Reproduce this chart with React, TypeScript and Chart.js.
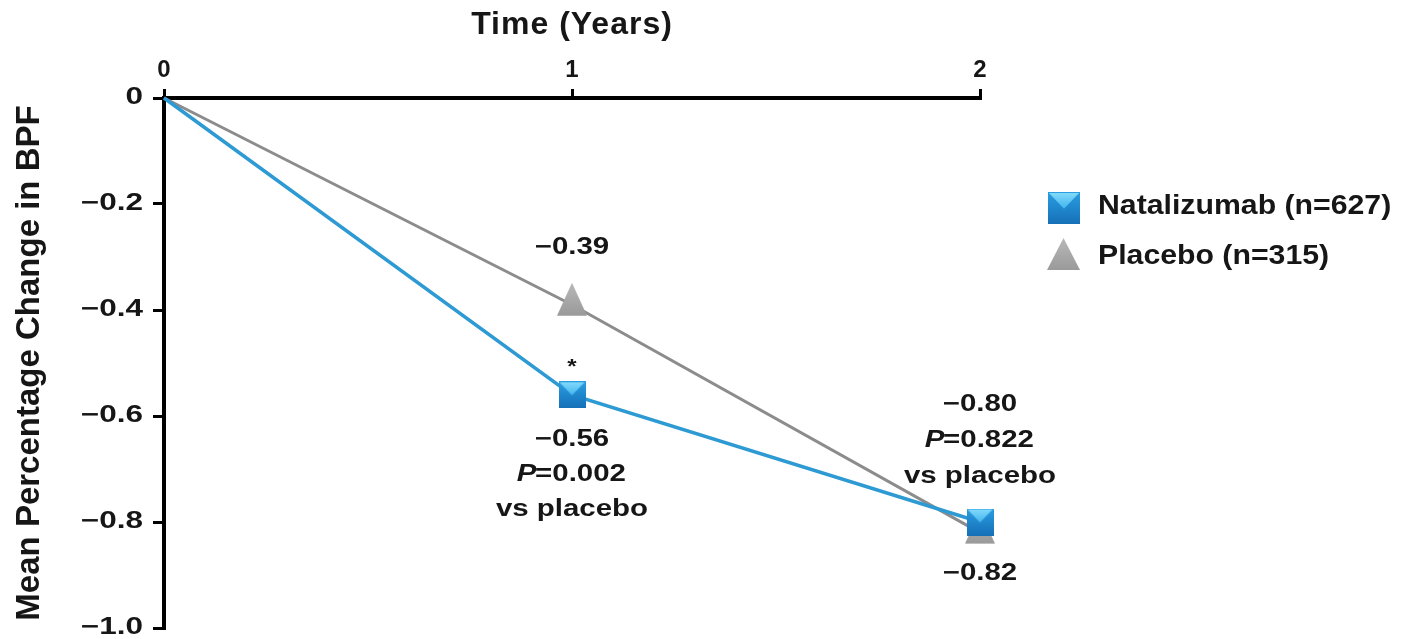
import React, { useEffect, useRef } from "react";
import { Chart, registerables } from "chart.js";

Chart.register(...registerables);

// ---- data ----
const years = [0, 1, 2];
const natalizumab = [0, -0.56, -0.8];
const placebo = [0, -0.39, -0.82];
const xTickValues = [0, 1, 2];
const xTickLabels = ["0", "1", "2"];
const yTickValues = [0, -0.2, -0.4, -0.6, -0.8, -1.0];
const yTickLabels = ["0", "\u22120.2", "\u22120.4", "\u22120.6", "\u22120.8", "\u22121.0"];
const legendLabels = ["Natalizumab (n=627)", "Placebo (n=315)"];
const natValueLabels = ["", "\u22120.56", "\u22120.80"];
const placeboValueLabels = ["", "\u22120.39", "\u22120.82"];
const pValueLabels = ["", "=0.002", "=0.822"];
const vsLabel = "vs placebo";
const xTitle = "Time (Years)";
const yTitle = "Mean Percentage Change in BPF";

const FONT = '"Liberation Sans", Arial, Helvetica, sans-serif';
const TEXT = "#161616";
const BLUE_LINE = "#2e9ad3";
const GRAY_LINE = "#8c8c8c";
const Y_TICK_PAD = 10;
const Y_TICK_LEN = 11;

function makeSquare(size: number): HTMLCanvasElement {
  const c = document.createElement("canvas");
  c.width = size;
  c.height = size;
  const g = c.getContext("2d")!;
  const base = g.createLinearGradient(0, 0, 0, size);
  base.addColorStop(0, "#2a9ee2");
  base.addColorStop(1, "#1670b8");
  g.fillStyle = base;
  g.fillRect(0, 0, size, size);
  const top = g.createLinearGradient(0, 0, 0, size * 0.55);
  top.addColorStop(0, "#86dcfb");
  top.addColorStop(1, "#3db2ee");
  g.fillStyle = top;
  g.beginPath();
  g.moveTo(1, 1);
  g.lineTo(size - 1, 1);
  g.lineTo(size / 2, size * 0.52);
  g.closePath();
  g.fill();
  return c;
}

// triangle whose canvas centre sits at 2/3 of height (centroid-like placement)
function makeTriangle(w: number, h: number): HTMLCanvasElement {
  const ch = Math.round((h * 4) / 3);
  const c = document.createElement("canvas");
  c.width = w;
  c.height = ch;
  const g = c.getContext("2d")!;
  const grad = g.createLinearGradient(0, 0, 0, h);
  grad.addColorStop(0, "#b8b8b8");
  grad.addColorStop(1, "#9a9a9a");
  g.fillStyle = grad;
  g.beginPath();
  g.moveTo(w / 2, 0);
  g.lineTo(w, h);
  g.lineTo(0, h);
  g.closePath();
  g.fill();
  return c;
}

// draw centred text, horizontally stretched by k
function stretchText(ctx: CanvasRenderingContext2D, text: string, cx: number, cy: number, k: number) {
  ctx.save();
  ctx.translate(cx, cy);
  ctx.scale(k, 1);
  ctx.textAlign = "center";
  ctx.fillText(text, 0, 0);
  ctx.restore();
}

function stretchP(ctx: CanvasRenderingContext2D, rest: string, cx: number, cy: number, size: number, k: number) {
  ctx.save();
  ctx.translate(cx, cy);
  ctx.scale(k, 1);
  ctx.font = `italic bold ${size}px ${FONT}`;
  const wP = ctx.measureText("P").width;
  ctx.font = `bold ${size}px ${FONT}`;
  const wR = ctx.measureText(rest).width;
  const start = -(wP + wR) / 2;
  ctx.textAlign = "left";
  ctx.font = `italic bold ${size}px ${FONT}`;
  ctx.fillText("P", start, 0);
  ctx.font = `bold ${size}px ${FONT}`;
  ctx.fillText(rest, start + wP - 1, 0);
  ctx.restore();
}

export default function App() {
  const ref = useRef<HTMLCanvasElement>(null);

  useEffect(() => {
    document.body.style.margin = "0";
    const sq = makeSquare(27);
    const sqLegend = makeSquare(32);
    const tri = makeTriangle(30, 33);
    const triLegend = makeTriangle(33, 32);

    // widen the y tick labels (reference uses a wide face)
    const wideTicks = {
      id: "wideTicks",
      beforeDraw(chart: any) {
        const s = chart.scales.y;
        if (s && !s.__wrapped) {
          const orig = s.drawLabels.bind(s);
          s.drawLabels = (area: any) => {
            const c = s.ctx;
            const px = s.right - Y_TICK_LEN - Y_TICK_PAD;
            c.save();
            c.translate(px, 0);
            c.scale(1.37, 1);
            c.translate(-px, 0);
            orig(area);
            c.restore();
          };
          s.__wrapped = true;
        }
        const x = chart.scales.x;
        if (x && !x.__wrapped) {
          const origT = x.drawTitle.bind(x);
          x.drawTitle = () => {
            const c: any = x.ctx;
            const prev = c.letterSpacing;
            c.letterSpacing = "1px";
            origT();
            c.letterSpacing = prev || "0px";
          };
          x.__wrapped = true;
        }
      },
    };

    const annotations = {
      id: "annotations",
      afterDatasetsDraw(chart: any) {
        const { ctx, scales } = chart;
        const xs = scales.x;
        const ys = scales.y;
        const size = 23;
        const k = 1.28;
        ctx.save();
        ctx.fillStyle = TEXT;
        ctx.textBaseline = "middle";
        ctx.font = `bold ${size}px ${FONT}`;

        // year 1
        const x1 = xs.getPixelForValue(years[1]);
        const pY1 = ys.getPixelForValue(placebo[1]);
        const nY1 = ys.getPixelForValue(natalizumab[1]);
        stretchText(ctx, placeboValueLabels[1], x1, pY1 - 57, k);
        stretchText(ctx, natValueLabels[1], x1, nY1 + 45, k);
        stretchP(ctx, pValueLabels[1], x1, nY1 + 80, size, k);
        ctx.font = `bold ${size}px ${FONT}`;
        stretchText(ctx, vsLabel, x1, nY1 + 115, k);
        ctx.textBaseline = "alphabetic";
        ctx.font = `bold 20px ${FONT}`;
        stretchText(ctx, "*", x1, nY1 - 22, 1.2);
        ctx.textBaseline = "middle";

        // year 2
        const x2 = xs.getPixelForValue(years[2]);
        const nY2 = ys.getPixelForValue(natalizumab[2]);
        const pY2 = ys.getPixelForValue(placebo[2]);
        ctx.font = `bold ${size}px ${FONT}`;
        stretchText(ctx, natValueLabels[2], x2, nY2 - 117, k);
        stretchP(ctx, pValueLabels[2], x2, nY2 - 81, size, k);
        ctx.font = `bold ${size}px ${FONT}`;
        stretchText(ctx, vsLabel, x2, nY2 - 45, k);
        stretchText(ctx, placeboValueLabels[2], x2, pY2 + 41, k);
        ctx.restore();
      },
      afterDraw(chart: any) {
        const { ctx } = chart;
        ctx.save();
        ctx.drawImage(sqLegend, 1048, 192);
        ctx.drawImage(triLegend, 1047, 238);
        ctx.fillStyle = TEXT;
        ctx.textBaseline = "middle";
        ctx.font = `bold 28px ${FONT}`;
        for (let i = 0; i < legendLabels.length; i++) {
          ctx.save();
          ctx.translate(1098, 206 + i * 50);
          ctx.scale(1.08, 1);
          ctx.textAlign = "left";
          ctx.fillText(legendLabels[i], 0, 0);
          ctx.restore();
        }
        ctx.restore();
      },
    };

    const chart = new Chart(ref.current!, {
      type: "line",
      data: {
        datasets: [
          {
            label: legendLabels[0],
            data: years.map((x, i) => ({ x, y: natalizumab[i] })),
            borderColor: BLUE_LINE,
            borderWidth: 3.5,
            pointStyle: sq as any,
            pointRadius: (c: any) => (c.dataIndex === 0 ? 0 : 14),
            tension: 0,
            clip: false as any,
          },
          {
            label: legendLabels[1],
            data: years.map((x, i) => ({ x, y: placebo[i] })),
            borderColor: GRAY_LINE,
            borderWidth: 3,
            pointStyle: tri as any,
            pointRadius: (c: any) => (c.dataIndex === 0 ? 0 : 14),
            tension: 0,
            clip: false as any,
          },
        ],
      },
      options: {
        responsive: false,
        animation: false,
        events: [],
        layout: { autoPadding: false, padding: { left: 0, right: 423, top: 0, bottom: 11 } },
        plugins: {
          legend: { display: false },
          tooltip: { enabled: false },
        },
        scales: {
          x: {
            type: "linear",
            position: "top",
            min: 0,
            max: 2,
            afterBuildTicks: (s: any) => {
              s.ticks = xTickValues.map((v) => ({ value: v }));
            },
            afterFit: (s: any) => {
              s.height = 98;
              s.paddingLeft = 0;
              s.paddingRight = 0;
            },
            grid: { drawOnChartArea: false, drawTicks: true, tickLength: 9, color: "#000", lineWidth: 3 },
            border: { display: true, color: "#000", width: 4 },
            ticks: {
              padding: 4,
              color: TEXT,
              font: { family: FONT, size: 24, weight: "bold" },
              maxRotation: 0,
              autoSkip: false,
              callback: (_v: any, i: number) => xTickLabels[i],
            },
            title: {
              display: true,
              text: xTitle,
              color: TEXT,
              font: { family: FONT, size: 32, weight: "bold" },
              padding: { top: 6, bottom: 0 },
            },
          },
          y: {
            type: "linear",
            min: -1,
            max: 0,
            afterBuildTicks: (s: any) => {
              s.ticks = yTickValues.map((v) => ({ value: v }));
            },
            afterFit: (s: any) => {
              s.width = 164;
              s.paddingTop = 0;
              s.paddingBottom = 0;
            },
            grid: { drawOnChartArea: false, drawTicks: true, tickLength: Y_TICK_LEN, color: "#000", lineWidth: 3 },
            border: { display: true, color: "#000", width: 4 },
            ticks: {
              padding: Y_TICK_PAD,
              color: TEXT,
              font: { family: FONT, size: 23, weight: "bold" },
              autoSkip: false,
              callback: (_v: any, i: number) => yTickLabels[i],
            },
            title: {
              display: true,
              text: yTitle,
              color: TEXT,
              font: { family: FONT, size: 33, weight: "bold" },
              padding: { top: 10, bottom: 0 },
            },
          },
        },
      } as any,
      plugins: [wideTicks as any, annotations as any],
    });

    return () => chart.destroy();
  }, []);

  return (
    <div style={{ width: 1403, height: 639 }}>
      <canvas ref={ref} width={1403} height={639} style={{ display: "block" }} />
    </div>
  );
}
